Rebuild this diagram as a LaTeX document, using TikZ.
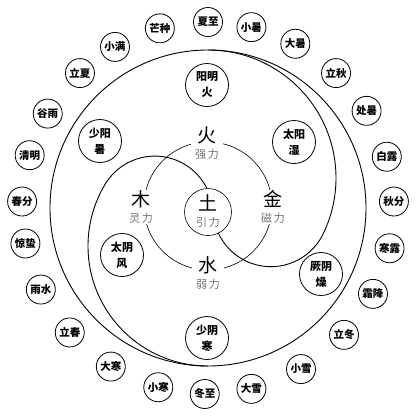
\documentclass[tikz,border=0pt]{standalone}
\usepackage{fontspec}
\setmainfont{Noto Sans CJK SC}
\usepackage{tikz}
\definecolor{ligray}{RGB}{115,115,115}
\newcommand{\lifont}{\fontsize{11}{12}\selectfont\color{ligray}}

\begin{document}
\begin{tikzpicture}[x=1pt, y=1pt,
  jieqi/.style={circle, draw, line width=0.8pt, minimum size=29pt, inner sep=0pt, font=\fontsize{10.5}{12}\selectfont\bfseries},
  liuqi/.style={circle, draw, line width=0.8pt, fill=white, minimum size=43pt, inner sep=0pt, align=center, font=\fontsize{11}{16}\selectfont\bfseries},
  xing/.style={fill=white, inner xsep=4pt, inner ysep=1pt, align=center, font=\fontsize{19}{15.5}\selectfont}]

  \useasboundingbox (-208,-208) rectangle (211,208);

  % Big circle and the two arms
  \node[circle, draw, line width=0.9pt, minimum size=316pt, inner sep=0pt, outer sep=0pt] (taiji) at (0,0) {};
  \draw[line width=0.9pt] (taiji.north) arc[start angle=90, end angle=-26, radius=128] arc[start angle=-26, end angle=-155, radius=58];
  \draw[line width=0.9pt] (taiji.south) arc[start angle=-90, end angle=-211, radius=120] arc[start angle=149, end angle=26.6, radius=58];

  % Five elements
  \node[circle, draw, line width=0.6pt, minimum size=128pt, inner sep=0pt] (wuxing) at (0,2) {};
  \node[circle, draw, line width=0.6pt, minimum size=47pt, inner sep=0pt] (tu) at (0,-4) {};
  \node[xing] (huo) at (-1,65) {火\\{\lifont 强\,力}};
  \node[xing] (jin) at (65,1) {金\\{\lifont 磁\,力}};
  \node[xing] (shui) at (0,-65) {水\\{\lifont 弱\,力}};
  \node[xing] (mu) at (-67,1) {木\\{\lifont 灵\,力}};
  \node[xing, fill=none] (tuzi) at (0,-3) {土\\{\lifont 引\,力}};

  % Six qi
  \node[liuqi] (yangming) at (-1,123) {阳明\\火};
  \node[liuqi] (taiyang) at (86,66) {太阳\\湿};
  \node[liuqi] (jueyin) at (113,-66) {厥阴\\燥};
  \node[liuqi] (shaoyin) at (-1,-130) {少阴\\寒};
  \node[liuqi] (taiyin) at (-86,-47) {太阴\\风};
  \node[liuqi] (shaoyang) at (-108,67) {少阳\\暑};

  % Solar terms
  \node[jieqi] (xiazhi) at (90:186) {夏至};
  \node[jieqi] (xiaoshu) at (76.5:186) {小暑};
  \node[jieqi] (dashu) at (62:186) {大暑};
  \node[jieqi] (liqiu) at (46.5:186) {立秋};
  \node[jieqi] (chushu) at (31.5:186) {处暑};
  \node[jieqi] (bailu) at (16:186) {白露};
  \node[jieqi] (qiufen) at (2:186) {秋分};
  \node[jieqi] (hanlu) at (-12.5:186) {寒露};
  \node[jieqi] (shuangjiang) at (-27.5:186) {霜降};
  \node[jieqi] (lidong) at (-43:186) {立冬};
  \node[jieqi] (xiaoxue) at (-60:186) {小雪};
  \node[jieqi] (daxue) at (-76.5:186) {大雪};
  \node[jieqi] (dongzhi) at (-91:186) {冬至};
  \node[jieqi] (xiaohan) at (-105.5:186) {小寒};
  \node[jieqi] (dahan) at (-121.5:186) {大寒};
  \node[jieqi] (lichun) at (-138:186) {立春};
  \node[jieqi] (yushui) at (-154:186) {雨水};
  \node[jieqi] (jingzhe) at (-169:186) {惊蛰};
  \node[jieqi] (chunfen) at (178:186) {春分};
  \node[jieqi] (qingming) at (163.5:186) {清明};
  \node[jieqi] (guyu) at (149.5:186) {谷雨};
  \node[jieqi] (lixia) at (133.5:186) {立夏};
  \node[jieqi] (xiaoman) at (120:186) {小满};
  \node[jieqi] (mangzhong) at (105:186) {芒种};
\end{tikzpicture}
\end{document}
